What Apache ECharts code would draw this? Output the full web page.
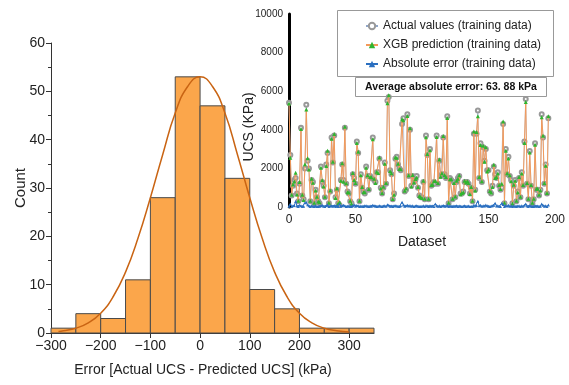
<!DOCTYPE html>
<html>
<head>
<meta charset="utf-8">
<script src="https://cdn.jsdelivr.net/npm/echarts@6/dist/echarts.min.js"></script>
<style>
  html, body { margin: 0; padding: 0; background: #fff; }
  #main { width: 569px; height: 385px; }
</style>
</head>
<body>
<div id="main"></div>
<script type="text/javascript">
// histogram of errors
var binEdges = [-300, -250, -200, -150, -100, -50, 0, 50, 100, 150, 200, 250, 300, 350];
var binCounts = [1, 4, 3, 11, 28, 53, 47, 32, 9, 5, 1, 1, 1];
var xTicks = [-300, -200, -100, 0, 100, 200, 300];

// fitted normal curve
var curveX = [-285, -275, -250, -225, -200, -175, -150, -125, -100, -75, -50, -25, 0, 25, 50, 75, 100, 125, 150, 175, 200, 225, 250, 275, 300];
var curveY = [0.3, 0.45, 1.0, 2.1, 4.1, 7.5, 12.6, 19.6, 28, 37, 45.5, 51, 53, 51, 45.5, 37, 28, 19.6, 12.6, 7.5, 4.1, 2.1, 1.0, 0.45, 0.2];

// inset: training data
var actualVals = [
  5400, 2700, 600, 1100, 1400, 1500, 700, 300, 1200, 4100,
  600, 400, 2000, 5300, 2400, 2000, 300, 1400, 1300, 200,
  900, 500, 300, 200, 2100, 1300, 1100, 500, 2200, 2800,
  200, 800, 3600, 2300, 3700, 500, 900, 200, 100, 1400,
  2200, 1400, 4100, 1200, 800, 700, 300, 200, 1700, 1500,
  1200, 3400, 2800, 300, 1700, 1000, 800, 700, 2100, 1600,
  900, 1600, 1500, 3600, 1400, 1300, 1800, 1800, 2500, 1000,
  700, 1000, 2300, 1200, 5500, 5700, 1900, 1700, 400, 700,
  2500, 2600, 2200, 2000, 1900, 4300, 4600, 800, 900, 4800,
  1600, 4000, 1100, 1600, 1300, 1400, 1600, 1000, 600, 500,
  500, 1300, 400, 3700, 2700, 400, 3000, 1100, 1200, 1300,
  1200, 3700, 1200, 2400, 1600, 1700, 3600, 1700, 1500, 4700,
  200, 1500, 1400, 400, 1300, 500, 1300, 1500, 1600, 700,
  700, 800, 1300, 1300, 1300, 1200, 700, 1000, 300, 3800,
  900, 3800, 5000, 1500, 3300, 1300, 3100, 2400, 3000, 1900,
  1900, 800, 700, 1100, 2100, 1700, 1500, 1800, 1100, 900,
  1000, 4300, 200, 3000, 1700, 2600, 1600, 1400, 200, 1100,
  1400, 300, 800, 1500, 500, 1800, 1100, 3400, 5600, 1200,
  400, 2900, 1100, 200, 400, 3300, 900, 900, 600, 900,
  4800, 3600, 1200, 2200, 700, 4600
];
var predictedVals = [
  5360, 2550, 630, 1160, 1320, 1780, 650, 320, 1290, 4040,
  630, 360, 2220, 5050, 2520, 1940, 330, 1470, 1260, 220,
  850, 530, 280, 240, 2030, 1390, 1060, 530, 2120, 2910,
  220, 850, 3540, 2340, 3780, 470, 960, 180, 250, 1360,
  2270, 1310, 4160, 1230, 760, 750, 320, 170, 1760, 1400,
  1240, 3320, 2860, 330, 1650, 1040, 770, 760, 2030, 1640,
  930, 1550, 1540, 3510, 1460, 1250, 1830, 1760, 2570, 960,
  730, 1050, 2240, 1240, 5380, 5790, 1860, 1750, 420, 640,
  2570, 2550, 2240, 1970, 1960, 4550, 4490, 840, 960, 4710,
  1650, 4080, 1060, 1660, 1270, 1450, 1530, 1040, 570, 520,
  460, 1360, 430, 3620, 2750, 430, 2940, 1140, 1150, 1330,
  1350, 3630, 1240, 2460, 1570, 1750, 3680, 1660, 1550, 4610,
  220, 1440, 1440, 430, 1250, 540, 1360, 1470, 1650, 660,
  730, 760, 1360, 1270, 1340, 1250, 670, 1040, 320, 3910,
  850, 3880, 4700, 1560, 3210, 1340, 3170, 2350, 3100, 1840,
  1940, 830, 750, 1040, 2190, 1500, 1550, 1730, 1140, 930,
  1200, 4430, 220, 2920, 1750, 2510, 1640, 1340, 180, 1150,
  1360, 330, 750, 1560, 530, 1730, 1140, 3310, 5440, 1250,
  430, 2820, 1140, 220, 430, 3230, 940, 950, 630, 860,
  4650, 3690, 1240, 2140, 730, 4700
];
var absErrorVals = [
  40, 150, 30, 60, 80, 280, 50, 20, 90, 60,
  30, 40, 220, 250, 120, 60, 30, 70, 40, 20,
  50, 30, 20, 40, 70, 90, 40, 30, 80, 110,
  20, 50, 60, 40, 80, 30, 60, 20, 150, 40,
  70, 90, 60, 30, 40, 50, 20, 30, 60, 100,
  40, 80, 60, 30, 50, 40, 30, 60, 70, 40,
  30, 50, 40, 90, 60, 50, 30, 40, 70, 40,
  30, 50, 60, 40, 120, 90, 40, 50, 20, 60,
  70, 50, 40, 30, 60, 250, 110, 40, 60, 90,
  50, 80, 40, 60, 30, 50, 70, 40, 30, 20,
  40, 60, 30, 80, 50, 30, 60, 40, 50, 30,
  150, 70, 40, 60, 30, 50, 80, 40, 50, 90,
  20, 60, 40, 30, 50, 40, 60, 30, 50, 40,
  30, 40, 60, 30, 40, 50, 30, 40, 20, 110,
  50, 80, 300, 60, 90, 40, 70, 50, 100, 60,
  40, 30, 50, 60, 90, 200, 50, 70, 40, 30,
  200, 130, 20, 80, 50, 90, 40, 60, 20, 50,
  40, 30, 50, 60, 30, 70, 40, 90, 160, 50,
  30, 80, 40, 20, 30, 70, 40, 50, 30, 40,
  150, 90, 40, 60, 30, 100
];
var legendNames = ['Actual values (training data)', 'XGB prediction (training data)', 'Absolute error (training data)'];

var font = 'Liberation Sans, Arial, sans-serif';

var histData = [];
for (var i = 0; i < binCounts.length; i++) {
    histData.push([binEdges[i], binEdges[i + 1], binCounts[i]]);
}
var curveData = [];
for (var i = 0; i < curveX.length; i++) {
    curveData.push([curveX[i], curveY[i]]);
}
function indexed(arr) {
    var out = [];
    for (var i = 0; i < arr.length; i++) out.push([i, arr[i]]);
    return out;
}

var myChart = echarts.init(document.getElementById('main'));
var option = {
    backgroundColor: '#fff',
    textStyle: { fontFamily: font },
    animation: false,
    grid: [
        { left: 51, top: 43, width: 323, height: 290 },
        { left: 289, top: 14, width: 266, height: 193 }
    ],
    legend: {
        orient: 'vertical',
        left: 360,
        top: 15,
        itemWidth: 12,
        itemHeight: 8,
        itemGap: 7,
        textStyle: { fontSize: 12, color: '#222', fontFamily: font },
        data: legendNames
    },
    xAxis: [
        {
            type: 'value', gridIndex: 0, min: -300, max: 350,
            splitLine: { show: false },
            axisLine: { onZero: false, lineStyle: { color: '#333' } },
            axisTick: { length: 5, customValues: xTicks, lineStyle: { color: '#333' } },
            axisLabel: {
                customValues: xTicks, fontSize: 14, color: '#222', margin: 6,
                formatter: function (v) { return String(v).replace('-', '\u2212'); }
            }
        },
        {
            type: 'value', gridIndex: 1, min: 0, max: 200, interval: 50,
            splitLine: { show: false },
            axisLine: { show: false },
            axisTick: { show: false },
            axisLabel: { fontSize: 12, color: '#222', margin: 7 },
            name: 'Dataset', nameLocation: 'middle', nameGap: 28,
            nameTextStyle: { fontSize: 14, color: '#222' }
        }
    ],
    yAxis: [
        {
            type: 'value', gridIndex: 0, min: 0, max: 60, interval: 10,
            splitLine: { show: false },
            axisLine: { show: true, onZero: false, lineStyle: { color: '#333' } },
            axisTick: { show: true, length: 5, lineStyle: { color: '#333' } },
            minorTick: { show: true, splitNumber: 2, length: 3, lineStyle: { color: '#333' } },
            axisLabel: { fontSize: 14, color: '#222', margin: 6 }
        },
        {
            type: 'value', gridIndex: 1, min: 0, max: 10000, interval: 2000,
            splitLine: { show: false },
            axisLine: { show: true, onZero: false, lineStyle: { color: '#000', width: 3 } },
            axisTick: { show: false },
            axisLabel: {
                fontSize: 10, color: '#222', margin: 6,
                formatter: function (v) { return String(v); }
            }
        }
    ],
    graphic: [
        {
            type: 'text', x: 21, y: 188, rotation: Math.PI / 2,
            style: { text: 'Count', font: '15px ' + font, fill: '#222', textAlign: 'center', textVerticalAlign: 'middle' }
        },
        {
            type: 'text', x: 203, y: 370,
            style: { text: 'Error [Actual UCS - Predicted UCS] (kPa)', font: '14px ' + font, fill: '#222', textAlign: 'center', textVerticalAlign: 'middle' }
        },
        {
            type: 'text', x: 249, y: 127, rotation: Math.PI / 2,
            style: { text: 'UCS (KPa)', font: '14px ' + font, fill: '#222', textAlign: 'center', textVerticalAlign: 'middle' }
        },
        {
            type: 'rect', shape: { x: 337.5, y: 10.5, width: 216, height: 66 },
            style: { fill: '#fff', stroke: '#999', lineWidth: 1 }, z: -1
        },
        {
            type: 'rect', shape: { x: 355.5, y: 77.5, width: 191, height: 19 },
            style: { fill: '#fff', stroke: '#999', lineWidth: 1 }
        },
        {
            type: 'text', x: 451, y: 87,
            style: { text: 'Average absolute error: 63. 88 kPa', font: 'bold 10.5px ' + font, fill: '#111', textAlign: 'center', textVerticalAlign: 'middle' }
        }
    ],
    series: [
        {
            type: 'custom', xAxisIndex: 0, yAxisIndex: 0,
            data: histData,
            encode: { x: [0, 1], y: 2 },
            renderItem: function (params, api) {
                var p0 = api.coord([api.value(0), api.value(2)]);
                var p1 = api.coord([api.value(1), 0]);
                return {
                    type: 'rect',
                    shape: { x: p0[0], y: p0[1], width: p1[0] - p0[0], height: p1[1] - p0[1] },
                    style: { fill: '#fba64b', stroke: '#4a4a4a', lineWidth: 1 }
                };
            }
        },
        {
            type: 'line', xAxisIndex: 0, yAxisIndex: 0,
            data: curveData, smooth: true, showSymbol: false, silent: true,
            lineStyle: { color: '#c96413', width: 1.5 }, z: 4
        },
        {
            name: legendNames[0], type: 'line', xAxisIndex: 1, yAxisIndex: 1,
            data: indexed(actualVals),
            symbol: 'emptyCircle', symbolSize: 4, showAllSymbol: true,
            itemStyle: { color: '#999', borderWidth: 1 },
            lineStyle: { color: '#8fa6c9', width: 0.6 }, z: 3
        },
        {
            name: legendNames[1], type: 'line', xAxisIndex: 1, yAxisIndex: 1,
            data: indexed(predictedVals),
            symbol: 'triangle', symbolSize: 4, showAllSymbol: true,
            itemStyle: { color: '#2fb52f' },
            lineStyle: { color: '#f39a5a', width: 1 }, z: 4
        },
        {
            name: legendNames[2], type: 'line', xAxisIndex: 1, yAxisIndex: 1,
            data: indexed(absErrorVals),
            symbol: 'triangle', symbolSize: 3, showAllSymbol: true,
            itemStyle: { color: '#2a6fc0' },
            lineStyle: { color: '#2a6fc0', width: 1 }, z: 5
        }
    ]
};
myChart.setOption(option);
</script>
</body>
</html>
